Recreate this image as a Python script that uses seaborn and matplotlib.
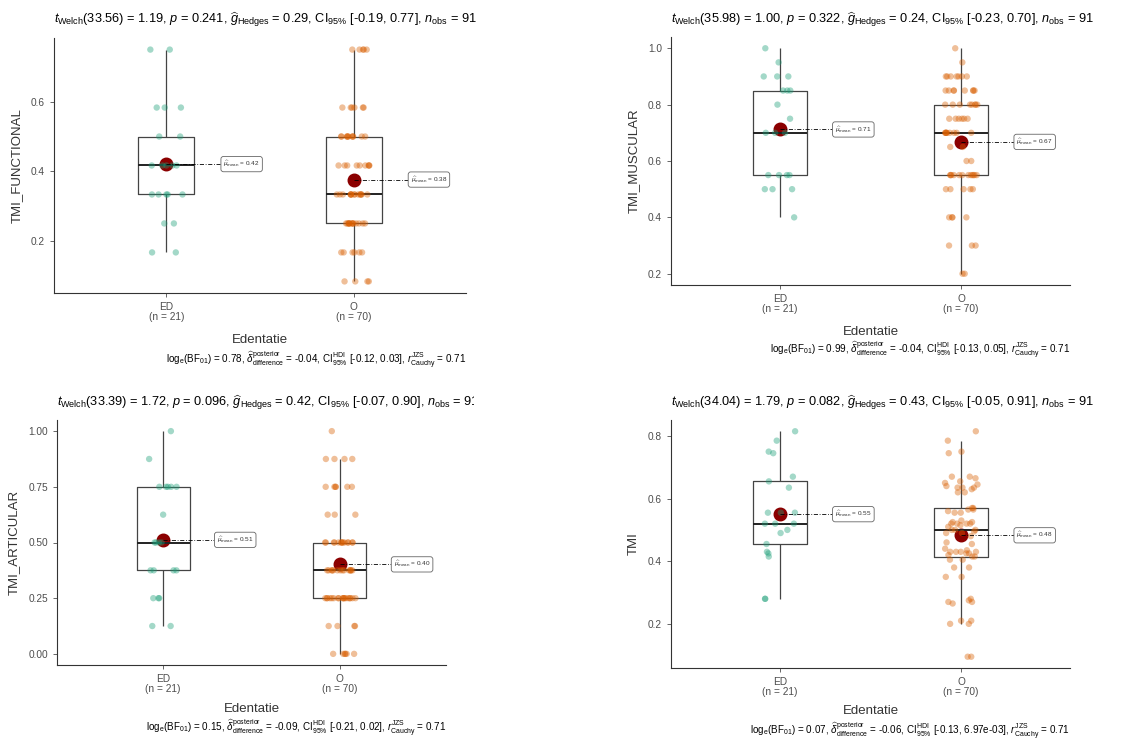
import numpy as np
import pandas as pd
import seaborn as sns
import matplotlib.pyplot as plt
from matplotlib.transforms import Bbox

sns.set_style('ticks')
plt.rcParams['font.family'] = ['Liberation Sans', 'DejaVu Sans']
plt.rcParams['mathtext.fontset'] = 'custom'
plt.rcParams['mathtext.rm'] = 'Liberation Sans'
plt.rcParams['mathtext.it'] = 'Liberation Sans:italic'
plt.rcParams['mathtext.bf'] = 'Liberation Sans:bold'

groups = ['ED', 'O']
group_n = [21, 70]
palette = {'ED': '#1B9E77', 'O': '#D95F02'}
x_name = 'Edentatie'

# TMI_FUNCTIONAL : levels + counts per group
func_levels = [0.0833, 0.1667, 0.25, 0.3333, 0.4167, 0.5, 0.5833, 0.75]
func_ed_counts = [0, 2, 2, 5, 5, 2, 3, 2]
func_o_counts = [4, 6, 14, 15, 9, 11, 6, 5]

# TMI_MUSCULAR
musc_levels = [0.2, 0.3, 0.4, 0.5, 0.55, 0.6, 0.65, 0.7, 0.75, 0.8, 0.85, 0.9, 0.95, 1.0]
musc_ed_counts = [0, 0, 1, 3, 4, 0, 0, 3, 1, 1, 3, 3, 1, 1]
musc_o_counts = [2, 3, 4, 5, 12, 2, 2, 9, 6, 8, 8, 7, 1, 1]

# TMI_ARTICULAR
art_levels = [0.0, 0.125, 0.25, 0.375, 0.5, 0.625, 0.75, 0.875, 1.0]
art_ed_counts = [0, 2, 3, 4, 4, 1, 5, 1, 1]
art_o_counts = [6, 4, 18, 14, 14, 3, 6, 4, 1]

# TMI (continuous)
tmi_ed = [0.815, 0.785, 0.75, 0.745, 0.67, 0.655, 0.635, 0.555, 0.555, 0.555, 0.52,
          0.52, 0.52, 0.5, 0.49, 0.455, 0.43, 0.425, 0.415, 0.28, 0.28]
tmi_o = [0.815, 0.785, 0.75, 0.745, 0.67, 0.67, 0.665, 0.655, 0.65, 0.645, 0.64,
         0.635, 0.635, 0.635, 0.63, 0.62, 0.62, 0.57, 0.57, 0.565, 0.565, 0.56,
         0.555, 0.555, 0.53, 0.525, 0.525, 0.52, 0.52, 0.52, 0.52, 0.515, 0.51,
         0.5, 0.5, 0.5, 0.495, 0.49, 0.49, 0.48, 0.46, 0.455, 0.44, 0.435, 0.43,
         0.43, 0.43, 0.43, 0.425, 0.425, 0.42, 0.415, 0.415, 0.405, 0.405, 0.38,
         0.38, 0.35, 0.35, 0.28, 0.275, 0.27, 0.27, 0.265, 0.21, 0.21, 0.2, 0.2,
         0.095, 0.095]

titles = [
    r"$t_{\mathrm{Welch}}$(33.56) = 1.19, $p$ = 0.241, $\widehat{g}_{\mathrm{Hedges}}$ = 0.29, CI$_{95\%}$ [-0.19, 0.77], $n_{\mathrm{obs}}$ = 91",
    r"$t_{\mathrm{Welch}}$(35.98) = 1.00, $p$ = 0.322, $\widehat{g}_{\mathrm{Hedges}}$ = 0.24, CI$_{95\%}$ [-0.23, 0.70], $n_{\mathrm{obs}}$ = 91",
    r"$t_{\mathrm{Welch}}$(33.39) = 1.72, $p$ = 0.096, $\widehat{g}_{\mathrm{Hedges}}$ = 0.42, CI$_{95\%}$ [-0.07, 0.90], $n_{\mathrm{obs}}$ = 91",
    r"$t_{\mathrm{Welch}}$(34.04) = 1.79, $p$ = 0.082, $\widehat{g}_{\mathrm{Hedges}}$ = 0.43, CI$_{95\%}$ [-0.05, 0.91], $n_{\mathrm{obs}}$ = 91",
]
captions = [
    r"log$_{\mathrm{e}}$(BF$_{01}$) = 0.78, $\widehat{\delta}_{\mathrm{difference}}^{\mathrm{posterior}}$ = -0.04, CI$_{95\%}^{\mathrm{HDI}}$ [-0.12, 0.03], $r_{\mathrm{Cauchy}}^{\mathrm{JZS}}$ = 0.71",
    r"log$_{\mathrm{e}}$(BF$_{01}$) = 0.99, $\widehat{\delta}_{\mathrm{difference}}^{\mathrm{posterior}}$ = -0.04, CI$_{95\%}^{\mathrm{HDI}}$ [-0.13, 0.05], $r_{\mathrm{Cauchy}}^{\mathrm{JZS}}$ = 0.71",
    r"log$_{\mathrm{e}}$(BF$_{01}$) = 0.15, $\widehat{\delta}_{\mathrm{difference}}^{\mathrm{posterior}}$ = -0.09, CI$_{95\%}^{\mathrm{HDI}}$ [-0.21, 0.02], $r_{\mathrm{Cauchy}}^{\mathrm{JZS}}$ = 0.71",
    r"log$_{\mathrm{e}}$(BF$_{01}$) = 0.07, $\widehat{\delta}_{\mathrm{difference}}^{\mathrm{posterior}}$ = -0.06, CI$_{95\%}^{\mathrm{HDI}}$ [-0.13, 6.97e-03], $r_{\mathrm{Cauchy}}^{\mathrm{JZS}}$ = 0.71",
]
y_names = ['TMI_FUNCTIONAL', 'TMI_MUSCULAR', 'TMI_ARTICULAR', 'TMI']
y_ticks = [[0.2, 0.4, 0.6], [0.2, 0.4, 0.6, 0.8, 1.0],
           [0.0, 0.25, 0.5, 0.75, 1.0], [0.2, 0.4, 0.6, 0.8]]
y_fmt = ['{:.1f}', '{:.1f}', '{:.2f}', '{:.1f}']

panel_values = [
    (np.repeat(func_levels, func_ed_counts), np.repeat(func_levels, func_o_counts)),
    (np.repeat(musc_levels, musc_ed_counts), np.repeat(musc_levels, musc_o_counts)),
    (np.repeat(art_levels, art_ed_counts), np.repeat(art_levels, art_o_counts)),
    (np.array(tmi_ed), np.array(tmi_o)),
]

W, H = 1122, 740
# axes boxes in pixels: left, top, right, bottom
ax_px = [(54, 38, 466, 293), (671, 37, 1070, 285),
         (57, 420, 446, 665), (671, 420, 1070, 668)]
title_y = [20, 20, 403, 403]
caption_y = [360, 350, 728, 731]
xlab_pad = [9, 9, 7, 6]

fig = plt.figure(figsize=(W / 100, H / 100), dpi=100)
np.random.seed(7)

for k in range(4):
    l, t, r, b = ax_px[k]
    ax = fig.add_axes([l / W, 1 - b / H, (r - l) / W, (b - t) / H])
    ed, o = panel_values[k]
    df = pd.DataFrame({
        x_name: ['ED'] * len(ed) + ['O'] * len(o),
        y_names[k]: np.concatenate([ed, o]),
    })

    sns.boxplot(data=df, x=x_name, y=y_names[k], order=groups, ax=ax,
                fill=False, color='#444444', width=0.3, linewidth=0.9,
                showfliers=False, showcaps=False,
                medianprops={'color': '#222222', 'linewidth': 1.4})
    sns.stripplot(data=df, x=x_name, y=y_names[k], order=groups, hue=x_name,
                  palette=palette, jitter=0.09, size=4.6, alpha=0.4,
                  linewidth=0, legend=False, ax=ax)
    sns.pointplot(data=df, x=x_name, y=y_names[k], order=groups,
                  estimator='mean', errorbar=None, linestyle='none',
                  marker='o', markersize=8, color='#8B0000', ax=ax)

    means = df.groupby(x_name)[y_names[k]].mean()
    for i, g in enumerate(groups):
        m = means[g]
        ax.plot([i, i + 0.29], [m, m], color='black', lw=0.6,
                ls=(0, (5, 2, 1, 2)), zorder=4)
        ax.text(i + 0.305, m, r"$\widehat{\mu}_{\mathrm{mean}}$ = " + f"{m:.2f}",
                fontsize=4.6, va='center', ha='left', color='#333333', zorder=5,
                bbox=dict(boxstyle='round,pad=0.4', fc='white', ec='#666666', lw=0.6))

    vals = df[y_names[k]]
    rng = vals.max() - vals.min()
    ax.set_ylim(vals.min() - 0.05 * rng, vals.max() + 0.05 * rng)
    ax.set_xlim(-0.6, 1.6)
    ax.set_yticks(y_ticks[k])
    ax.set_yticklabels([y_fmt[k].format(v) for v in y_ticks[k]])
    ax.set_xticks(range(len(groups)))
    ax.set_xticklabels([f"{g}\n(n = {n})" for g, n in zip(groups, group_n)],
                       linespacing=0.95)
    ax.tick_params(labelsize=7.3, colors='#4d4d4d', length=3, width=0.6)
    ax.set_xlabel(x_name, fontsize=9.5, color='#333333', labelpad=xlab_pad[k])
    ax.set_ylabel(y_names[k], fontsize=9.5, color='#333333', labelpad=6)
    sns.despine(ax=ax)
    for s in ['left', 'bottom']:
        ax.spines[s].set_color('#333333')
        ax.spines[s].set_linewidth(0.8)

    tt = fig.text(l / W, 1 - title_y[k] / H, titles[k], fontsize=9.2,
                  ha='left', va='center', color='black')
    if k == 2:
        # the reference cuts this title at the edge of its panel
        tt.set_clip_on(True)
        tt.set_clip_box(Bbox.from_extents(0, 0, 474, H))
    fig.text(r / W, 1 - caption_y[k] / H, captions[k], fontsize=7.1,
             ha='right', va='center', color='black')

plt.savefig('out.png', dpi=100)
